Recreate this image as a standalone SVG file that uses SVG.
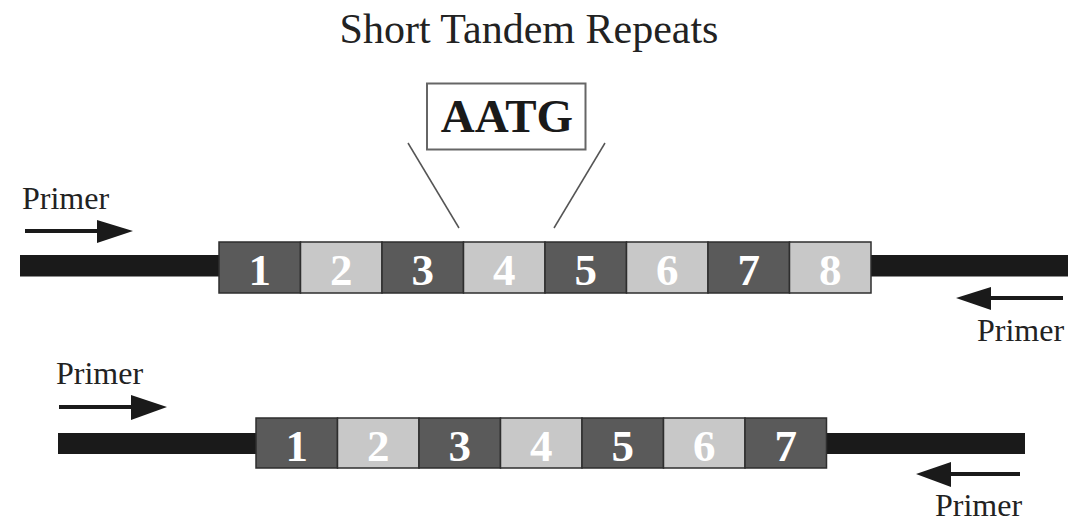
<svg xmlns="http://www.w3.org/2000/svg" width="1068" height="522" viewBox="0 0 1068 522">
<style>
.bar{fill:#1a1a1a}
.dk{fill:#5a5a5a;stroke:#2e2e2e;stroke-width:1.5}
.lt{fill:#c8c8c8;stroke:#2e2e2e;stroke-width:1.5}
.num{font-family:"Liberation Serif",serif;font-weight:bold;font-size:45px;fill:#ffffff;text-anchor:middle}
.lbl{font-family:"Liberation Serif",serif;font-size:32px;fill:#222}
.arr{stroke:#1a1a1a;stroke-width:4;fill:none}
.head{fill:#1a1a1a}
.zoom{stroke:#555;stroke-width:1.5;fill:none}
</style>
<rect width="1068" height="522" fill="#ffffff"/>
<text x="529" y="43" font-family="Liberation Serif, serif" font-size="42" fill="#222" text-anchor="middle">Short Tandem Repeats</text>
<g id="motif">
<rect x="427" y="83.5" width="158.5" height="66" fill="#fff" stroke="#666" stroke-width="2"/>
<text x="507" y="131.5" font-family="Liberation Serif, serif" font-weight="bold" font-size="47" fill="#1a1a1a" text-anchor="middle">AATG</text>
</g>
<g id="connectors">
<line class="zoom" x1="408" y1="143" x2="459" y2="228"/>
<line class="zoom" x1="605" y1="143" x2="554" y2="228"/>
<line class="arr" x1="25" y1="231" x2="100" y2="231"/>
<polygon class="head" points="97,220 133,231 97,243"/>
<line class="arr" x1="1063" y1="298" x2="988" y2="298"/>
<polygon class="head" points="991,287 956,298 991,310"/>
<line class="arr" x1="59" y1="407" x2="134" y2="407"/>
<polygon class="head" points="131,395 167,407 131,420"/>
<line class="arr" x1="1020" y1="474" x2="948" y2="474"/>
<polygon class="head" points="951,462 916,474 951,487"/>
</g>
<g id="strand1">
<rect class="bar" x="20" y="255" width="200" height="21.5"/>
<rect class="bar" x="871" y="255" width="197" height="21.5"/>
<rect class="dk" x="219" y="242" width="81.5" height="51"/>
<rect class="lt" x="300.5" y="242" width="81.5" height="51"/>
<rect class="dk" x="382" y="242" width="81.5" height="51"/>
<rect class="lt" x="463.5" y="242" width="81.5" height="51"/>
<rect class="dk" x="545" y="242" width="81.5" height="51"/>
<rect class="lt" x="626.5" y="242" width="81.5" height="51"/>
<rect class="dk" x="708" y="242" width="81.5" height="51"/>
<rect class="lt" x="789.5" y="242" width="81.5" height="51"/>
<text class="num" x="259.75" y="285">1</text>
<text class="num" x="341.25" y="285">2</text>
<text class="num" x="422.75" y="285">3</text>
<text class="num" x="504.25" y="285">4</text>
<text class="num" x="585.75" y="285">5</text>
<text class="num" x="667.25" y="285">6</text>
<text class="num" x="748.75" y="285">7</text>
<text class="num" x="830.25" y="285">8</text>
</g>
<g id="strand2">
<rect class="bar" x="58" y="433" width="199" height="21"/>
<rect class="bar" x="826" y="433" width="199" height="21"/>
<rect class="dk" x="256" y="418" width="81.5" height="50"/>
<rect class="lt" x="337.5" y="418" width="81.5" height="50"/>
<rect class="dk" x="419" y="418" width="81.5" height="50"/>
<rect class="lt" x="500.5" y="418" width="81.5" height="50"/>
<rect class="dk" x="582" y="418" width="81.5" height="50"/>
<rect class="lt" x="663.5" y="418" width="81.5" height="50"/>
<rect class="dk" x="745" y="418" width="81.5" height="50"/>
<text class="num" x="296.75" y="461">1</text>
<text class="num" x="378.25" y="461">2</text>
<text class="num" x="459.75" y="461">3</text>
<text class="num" x="541.25" y="461">4</text>
<text class="num" x="622.75" y="461">5</text>
<text class="num" x="704.25" y="461">6</text>
<text class="num" x="785.75" y="461">7</text>
</g>
<g id="primers">
<text class="lbl" x="22" y="209">Primer</text>
<text class="lbl" x="977" y="341">Primer</text>
<text class="lbl" x="56" y="384">Primer</text>
<text class="lbl" x="935" y="516">Primer</text>
</g>
</svg>
